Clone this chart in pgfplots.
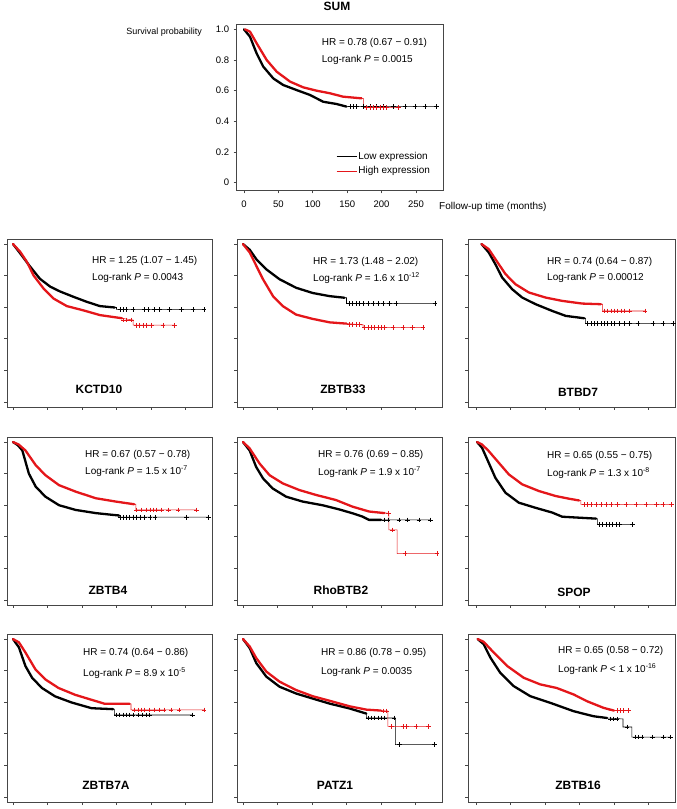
\documentclass[border=0pt]{standalone}
\usepackage{fontspec}
\setmainfont{Liberation Sans}
\usepackage{pgfplots}
\pgfplotsset{compat=1.18}
\definecolor{kmred}{RGB}{228,22,26}
\definecolor{frame}{RGB}{70,70,70}

\newcommand\hrfont{\fontsize{10}{12}\selectfont}
\newcommand\genefont{\fontsize{12}{14}\selectfont\bfseries}

\pgfplotsset{
  kmbase/.style={
    scale only axis, anchor=south west,
    ymin=-0.032, ymax=1.032,
    xtick={0,50,100,150,200,250}, ytick={0,0.2,0.4,0.6,0.8,1},
    xticklabels={}, yticklabels={},
    tick align=outside, xtick pos=bottom, ytick pos=left,
    major tick length=3pt,
    axis line style={frame, line width=0.6pt},
    tick style={frame, line width=0.6pt},
  },
  kmpanel/.style={kmbase, width=205pt, height=168pt, xmin=-8.7, xmax=288.4},
  kmpanelr/.style={kmbase, width=207pt, height=168pt, xmin=-11.6, xmax=288.4},
  lowline/.style={black, line width=0.55pt, mark=none},
  highline/.style={kmred, line width=0.55pt, mark=none},
  lowband/.style={black, line width=2.3pt, line join=round, line cap=round, mark=none, forget plot},
  highband/.style={kmred, line width=2.3pt, line join=round, line cap=round, mark=none, forget plot},
  lowcens/.style={black, only marks, mark=+, mark size=2.3pt, mark options={line width=0.5pt}, forget plot},
  highcens/.style={kmred, only marks, mark=+, mark size=2.3pt, mark options={line width=0.5pt}, forget plot},
}

\begin{document}
\begin{tikzpicture}
\path[use as bounding box] (0,0) rectangle (677pt,809pt);

% ---------------- SUM ----------------
\begin{axis}[kmbase, at={(236.7pt,618.5pt)}, width=206.6pt, height=166.5pt,
  xmin=-10.6, xmax=289.7, ymin=-0.051, ymax=1.035,
  xticklabels={0,50,100,150,200,250}, yticklabels={0,0.2,0.4,0.6,0.8,1.0},
  tick label style={font=\fontsize{9.5}{11}\selectfont},
  xticklabel style={yshift=-4pt}, yticklabel style={xshift=-1pt},
  legend image code/.code={\draw[#1] (0pt,0pt) -- (20pt,0pt);},
  legend style={draw=none, fill=none, inner sep=0pt, at={(0.481,0.161)}, anchor=west,
    font=\hrfont, row sep=3pt, nodes={inner sep=1.5pt}},
  legend cell align=left]
\addplot[lowline] coordinates {(0,1) (8.7,0.952) (18.4,0.843) (28,0.757) (42.6,0.68) (57,0.637) (76.5,0.604) (96,0.572) (115,0.528) (134.7,0.513) (149,0.496) (280,0.496)};
\addlegendentry{Low expression}
\addplot[lowband] coordinates {(0,1) (8.7,0.952) (18.4,0.843) (28,0.757) (42.6,0.68) (57,0.637) (76.5,0.604) (96,0.572) (115,0.528) (134.7,0.513) (149,0.496)};
\addplot[lowcens] coordinates {(154,0.496) (158.9,0.496) (163.8,0.496) (173.4,0.496) (183,0.496) (192.8,0.496) (202.5,0.496) (217,0.496) (234,0.496) (248.5,0.496) (263,0.496) (280,0.496)};
\addplot[highline] coordinates {(1.5,1) (8.7,0.985) (18.4,0.909) (33,0.80) (47.5,0.724) (67,0.659) (86,0.622) (105.6,0.60) (125,0.583) (144,0.561) (171,0.55) (173.4,0.55) (173.4,0.491) (224,0.491)};
\addlegendentry{High expression}
\addplot[highband] coordinates {(1.5,1) (8.7,0.985) (18.4,0.909) (33,0.80) (47.5,0.724) (67,0.659) (86,0.622) (105.6,0.60) (125,0.583) (144,0.561) (171,0.55)};
\addplot[highcens] coordinates {(178.3,0.491) (183,0.491) (188,0.491) (192.8,0.491) (197.7,0.491) (202.5,0.491) (207.4,0.491) (224.3,0.491)};
\end{axis}
\node[font=\genefont] at (337pt,802.7pt) {SUM};
\node[anchor=east, inner sep=0pt, font=\fontsize{9}{11}\selectfont] at (202pt,777pt) {Survival probability};
\node[anchor=west, inner sep=0pt, font=\hrfont] at (439pt,602.3pt) {Follow-up time (months)};
\node[anchor=west, inner sep=0pt, font=\hrfont] at (321.7pt,766.3pt) {HR = 0.78 (0.67 − 0.91)};
\node[anchor=west, inner sep=0pt, font=\hrfont] at (321.7pt,749pt) {Log-rank \textit{P} = 0.0015};

% ---------------- KCTD10 ----------------
\begin{axis}[kmpanel, at={(7pt,402pt)}]
\addplot[lowline] coordinates {(0,1) (10.6,0.94) (25,0.856) (39,0.78) (54,0.73) (68,0.70) (87.5,0.666) (107,0.634) (126,0.607) (147.6,0.598) (150,0.598) (150,0.586) (277,0.586)};
\addplot[lowband] coordinates {(0,1) (10.6,0.94) (25,0.856) (39,0.78) (54,0.73) (68,0.70) (87.5,0.666) (107,0.634) (126,0.607) (147.6,0.598)};
\addplot[lowcens] coordinates {(155,0.586) (159.6,0.586) (164,0.586) (174,0.586) (190.9,0.586) (195.7,0.586) (205.3,0.586) (212.5,0.586) (227,0.586) (243.8,0.586) (260.6,0.586) (277,0.586)};
\addplot[highline] coordinates {(0,1) (10.6,0.95) (20,0.888) (30,0.80) (44,0.72) (58.7,0.655) (78,0.607) (102,0.58) (126,0.55) (150,0.535) (171.6,0.52) (174,0.52) (174,0.486) (234,0.486)};
\addplot[highband] coordinates {(0,1) (10.6,0.95) (20,0.888) (30,0.80) (44,0.72) (58.7,0.655) (78,0.607) (102,0.58) (126,0.55) (150,0.535) (158,0.53)};
\addplot[highcens] coordinates {(159.6,0.52) (164.4,0.52) (171.6,0.52) (178.8,0.486) (183.6,0.486) (188.5,0.486) (193.3,0.486) (200.5,0.486) (217.3,0.486) (234,0.486)};
\end{axis}
\node[anchor=west, inner sep=0pt, font=\hrfont] at (92pt,548pt) {HR = 1.25 (1.07 − 1.45)};
\node[anchor=west, inner sep=0pt, font=\hrfont] at (92pt,531pt) {Log-rank \textit{P} = 0.0043};
\node[font=\genefont] at (99pt,420pt) {KCTD10};

% ---------------- ZBTB33 ----------------
\begin{axis}[kmpanel, at={(237pt,402pt)}]
\addplot[lowline] coordinates {(0,1) (9.7,0.964) (19.3,0.904) (33.8,0.84) (53,0.777) (77,0.723) (101,0.69) (125.6,0.67) (147,0.66) (150,0.66) (150,0.623) (278,0.623)};
\addplot[lowband] coordinates {(0,1) (9.7,0.964) (19.3,0.904) (33.8,0.84) (53,0.777) (77,0.723) (101,0.69) (125.6,0.67) (147,0.66)};
\addplot[lowcens] coordinates {(154.6,0.623) (159,0.623) (164,0.623) (169,0.623) (174,0.623) (181,0.623) (188.4,0.623) (195.7,0.623) (203,0.623) (212.6,0.623) (222,0.623) (278,0.623)};
\addplot[highline] coordinates {(0,1) (9.7,0.947) (19.3,0.862) (29,0.777) (43.5,0.67) (58,0.606) (77,0.553) (101,0.526) (125.6,0.504) (150,0.496) (171.5,0.489) (174,0.489) (174,0.472) (261,0.472)};
\addplot[highband] coordinates {(0,1) (9.7,0.947) (19.3,0.862) (29,0.777) (43.5,0.67) (58,0.606) (77,0.553) (101,0.526) (125.6,0.504) (150,0.496)};
\addplot[highcens] coordinates {(154.6,0.489) (159,0.489) (164,0.489) (169,0.489) (176,0.472) (181,0.472) (186,0.472) (190.8,0.472) (195.7,0.472) (200.5,0.472) (205.3,0.472) (217.4,0.472) (232,0.472) (246,0.472) (261,0.472)};
\end{axis}
\node[anchor=west, inner sep=0pt, font=\hrfont] at (313pt,547pt) {HR = 1.73 (1.48 − 2.02)};
\node[anchor=west, inner sep=0pt, font=\hrfont] at (313pt,531pt) {Log-rank \textit{P} = 1.6 x 10\textsuperscript{-12}};
\node[font=\genefont] at (343pt,420pt) {ZBTB33};

% ---------------- BTBD7 ----------------
\begin{axis}[kmpanelr, at={(468pt,402pt)}]
\addplot[lowline] coordinates {(8,1) (18.4,0.947) (28,0.873) (37.9,0.788) (52.4,0.714) (67,0.661) (86.4,0.619) (110.7,0.576) (130,0.545) (156.8,0.53) (159,0.53) (159,0.496) (288.4,0.496)};
\addplot[lowband] coordinates {(8,1) (18.4,0.947) (28,0.873) (37.9,0.788) (52.4,0.714) (67,0.661) (86.4,0.619) (110.7,0.576) (130,0.545) (156.8,0.53)};
\addplot[lowcens] coordinates {(161.7,0.496) (166.5,0.496) (171,0.496) (176,0.496) (181,0.496) (186,0.496) (190.8,0.496) (195.6,0.496) (200.5,0.496) (207.8,0.496) (215,0.496) (222.3,0.496) (234.5,0.496) (256.3,0.496) (271,0.496) (286,0.496)};
\addplot[highline] coordinates {(8,1) (18.4,0.968) (28,0.905) (42.7,0.81) (57,0.746) (76.7,0.693) (101,0.661) (125,0.64) (154,0.623) (181,0.619) (183.5,0.619) (183.5,0.576) (245,0.576)};
\addplot[highband] coordinates {(8,1) (18.4,0.968) (28,0.905) (42.7,0.81) (57,0.746) (76.7,0.693) (101,0.661) (125,0.64) (154,0.623) (181,0.619)};
\addplot[highcens] coordinates {(186,0.576) (190.8,0.576) (195.6,0.576) (200.5,0.576) (205.3,0.576) (210,0.576) (215,0.576) (222.3,0.576) (245,0.576)};
\end{axis}
\node[anchor=west, inner sep=0pt, font=\hrfont] at (547pt,547pt) {HR = 0.74 (0.64 − 0.87)};
\node[anchor=west, inner sep=0pt, font=\hrfont] at (547pt,531pt) {Log-rank \textit{P} = 0.00012};
\node[font=\genefont] at (578pt,417pt) {BTBD7};

% ---------------- ZBTB4 ----------------
\begin{axis}[kmpanel, at={(7pt,204pt)}]
\addplot[lowline] coordinates {(0,1) (7,0.98) (13.5,0.947) (23,0.80) (33,0.717) (47,0.654) (66.7,0.60) (90.8,0.57) (120,0.55) (144,0.539) (153.6,0.539) (153.6,0.524) (284,0.524)};
\addplot[lowband] coordinates {(0,1) (7,0.98) (13.5,0.947) (23,0.80) (33,0.717) (47,0.654) (66.7,0.60) (90.8,0.57) (120,0.55) (144,0.539) (153.6,0.535)};
\addplot[lowcens] coordinates {(155,0.524) (160,0.524) (164.4,0.524) (169,0.524) (174,0.524) (178.8,0.524) (184,0.524) (190.4,0.524) (198.6,0.524) (205.8,0.524) (251.4,0.524) (283,0.524)};
\addplot[highline] coordinates {(0,1) (8,0.985) (18,0.947) (33,0.853) (47,0.79) (66.7,0.727) (90.8,0.686) (120,0.644) (149,0.623) (175.6,0.606) (178,0.606) (178,0.57) (266,0.57)};
\addplot[highband] coordinates {(0,1) (8,0.985) (18,0.947) (33,0.853) (47,0.79) (66.7,0.727) (90.8,0.686) (120,0.644) (149,0.623) (175.6,0.606)};
\addplot[highcens] coordinates {(179,0.57) (186.5,0.57) (193.8,0.57) (198.6,0.57) (203.4,0.57) (208,0.57) (215.4,0.57) (225,0.57) (239.4,0.57) (266,0.57)};
\end{axis}
\node[anchor=west, inner sep=0pt, font=\hrfont] at (85pt,354pt) {HR = 0.67 (0.57 − 0.78)};
\node[anchor=west, inner sep=0pt, font=\hrfont] at (85pt,338pt) {Log-rank \textit{P} = 1.5 x 10\textsuperscript{-7}};
\node[font=\genefont] at (108pt,219pt) {ZBTB4};

% ---------------- RhoBTB2 ----------------
\begin{axis}[kmpanel, at={(237pt,204pt)}]
\addplot[lowline] coordinates {(0,1) (9.6,0.947) (19,0.843) (29,0.77) (43,0.706) (62.5,0.654) (86.5,0.623) (115,0.60) (139,0.574) (158.6,0.549) (173,0.528) (182.7,0.507) (271.6,0.507)};
\addplot[lowband] coordinates {(0,1) (9.6,0.947) (19,0.843) (29,0.77) (43,0.706) (62.5,0.654) (86.5,0.623) (115,0.60) (139,0.574) (158.6,0.549) (173,0.528) (182.7,0.507) (200,0.507)};
\addplot[lowcens] coordinates {(205,0.507) (210,0.507) (226,0.507) (238,0.507) (254.8,0.507) (271.6,0.507)};
\addplot[highline] coordinates {(0,1) (9.6,0.96) (24,0.864) (38.5,0.79) (57.7,0.738) (81.7,0.696) (105.8,0.665) (134.6,0.633) (158.6,0.591) (182.7,0.56) (211.5,0.549) (211.5,0.444) (223.5,0.444) (223.5,0.293) (281,0.293)};
\addplot[highband] coordinates {(0,1) (9.6,0.96) (24,0.864) (38.5,0.79) (57.7,0.738) (81.7,0.696) (105.8,0.665) (134.6,0.633) (158.6,0.591) (182.7,0.56) (205,0.55)};
\addplot[highcens] coordinates {(211,0.549) (216.3,0.444) (234.6,0.293) (281,0.293)};
\end{axis}
\node[anchor=west, inner sep=0pt, font=\hrfont] at (318pt,354pt) {HR = 0.76 (0.69 − 0.85)};
\node[anchor=west, inner sep=0pt, font=\hrfont] at (318pt,337pt) {Log-rank \textit{P} = 1.9 x 10\textsuperscript{-7}};
\node[font=\genefont] at (341pt,219pt) {RhoBTB2};

% ---------------- SPOP ----------------
\begin{axis}[kmpanelr, at={(468pt,204pt)}]
\addplot[lowline] coordinates {(1.5,1) (8.7,0.964) (18.4,0.869) (28,0.774) (42.7,0.679) (62,0.616) (86,0.584) (110.7,0.553) (125,0.527) (149.5,0.521) (174,0.515) (176,0.515) (176,0.479) (227,0.479)};
\addplot[lowband] coordinates {(1.5,1) (8.7,0.964) (18.4,0.869) (28,0.774) (42.7,0.679) (62,0.616) (86,0.584) (110.7,0.553) (125,0.527) (149.5,0.521) (174,0.515)};
\addplot[lowcens] coordinates {(178.6,0.479) (183.5,0.479) (188.3,0.479) (193.2,0.479) (198,0.479) (203,0.479) (207.8,0.479) (227,0.479)};
\addplot[highline] coordinates {(1.5,1) (8.7,0.985) (18.4,0.943) (33,0.869) (47.6,0.795) (67,0.732) (91,0.69) (115.5,0.658) (135,0.641) (149.5,0.63) (152,0.63) (152,0.605) (283,0.605)};
\addplot[highband] coordinates {(1.5,1) (8.7,0.985) (18.4,0.943) (33,0.869) (47.6,0.795) (67,0.732) (91,0.69) (115.5,0.658) (135,0.641) (149.5,0.63)};
\addplot[highcens] coordinates {(156.8,0.605) (161.7,0.605) (166.5,0.605) (173.8,0.605) (181,0.605) (188.3,0.605) (195.6,0.605) (205.3,0.605) (217.5,0.605) (232,0.605) (246.6,0.605) (261.2,0.605) (270.9,0.605) (283,0.605)};
\end{axis}
\node[anchor=west, inner sep=0pt, font=\hrfont] at (547pt,353pt) {HR = 0.65 (0.55 − 0.75)};
\node[anchor=west, inner sep=0pt, font=\hrfont] at (547pt,336pt) {Log-rank \textit{P} = 1.3 x 10\textsuperscript{-8}};
\node[font=\genefont] at (574pt,217pt) {SPOP};

% ---------------- ZBTB7A ----------------
\begin{axis}[kmpanel, at={(7pt,7pt)}]
\addplot[lowline] coordinates {(0,1) (8.6,0.947) (18,0.829) (27.8,0.754) (42,0.69) (61,0.637) (85,0.598) (114,0.562) (145,0.556) (147,0.556) (147,0.519) (260,0.519)};
\addplot[lowband] coordinates {(0,1) (8.6,0.947) (18,0.829) (27.8,0.754) (42,0.69) (61,0.637) (85,0.598) (114,0.562) (145,0.556)};
\addplot[lowcens] coordinates {(149.8,0.519) (154.5,0.519) (159.3,0.519) (164,0.519) (168.9,0.519) (173.7,0.519) (180.9,0.519) (188,0.519) (192.8,0.519) (197.6,0.519) (259.8,0.519)};
\addplot[highline] coordinates {(0,1) (8.6,0.979) (18,0.915) (32.5,0.808) (47,0.744) (66,0.69) (90,0.647) (114,0.615) (133,0.59) (171,0.59) (171,0.551) (276.5,0.551)};
\addplot[highband] coordinates {(0,1) (8.6,0.979) (18,0.915) (32.5,0.808) (47,0.744) (66,0.69) (90,0.647) (114,0.615) (133,0.59) (169,0.59)};
\addplot[highcens] coordinates {(176,0.551) (180.9,0.551) (185.6,0.551) (190.4,0.551) (197.6,0.551) (204.8,0.551) (212,0.551) (219,0.551) (228.7,0.551) (240.7,0.551) (276.6,0.551)};
\end{axis}
\node[anchor=west, inner sep=0pt, font=\hrfont] at (83pt,156pt) {HR = 0.74 (0.64 − 0.86)};
\node[anchor=west, inner sep=0pt, font=\hrfont] at (83pt,136pt) {Log-rank \textit{P} = 8.9 x 10\textsuperscript{-5}};
\node[font=\genefont] at (106pt,24pt) {ZBTB7A};

% ---------------- PATZ1 ----------------
\begin{axis}[kmpanel, at={(237pt,7pt)}]
\addplot[lowline] coordinates {(0,1) (9.7,0.943) (19.3,0.847) (33.8,0.762) (53,0.698) (77,0.655) (101,0.623) (125.6,0.591) (154.6,0.56) (178.7,0.528) (178.7,0.50) (220.8,0.50) (220.8,0.332) (277.8,0.332)};
\addplot[lowband] coordinates {(0,1) (9.7,0.943) (19.3,0.847) (33.8,0.762) (53,0.698) (77,0.655) (101,0.623) (125.6,0.591) (154.6,0.56) (178.7,0.528)};
\addplot[lowcens] coordinates {(181,0.5) (186,0.5) (190.8,0.5) (195.7,0.5) (200.5,0.5) (205.3,0.5) (219,0.5) (227,0.332) (277.8,0.332)};
\addplot[highline] coordinates {(0,1) (9.7,0.953) (19.3,0.879) (33.8,0.794) (53,0.73) (77,0.677) (101,0.638) (125.6,0.609) (154.6,0.574) (178.7,0.553) (207.7,0.545) (210,0.545) (210,0.447) (269,0.447)};
\addplot[highband] coordinates {(0,1) (9.7,0.953) (19.3,0.879) (33.8,0.794) (53,0.73) (77,0.677) (101,0.638) (125.6,0.609) (154.6,0.574) (178.7,0.553) (200,0.547)};
\addplot[highcens] coordinates {(203,0.545) (207.7,0.545) (215,0.447) (232,0.447) (236.7,0.447) (251,0.447) (269,0.447)};
\end{axis}
\node[anchor=west, inner sep=0pt, font=\hrfont] at (321pt,156pt) {HR = 0.86 (0.78 − 0.95)};
\node[anchor=west, inner sep=0pt, font=\hrfont] at (321pt,137pt) {Log-rank \textit{P} = 0.0035};
\node[font=\genefont] at (335pt,24pt) {PATZ1};

% ---------------- ZBTB16 ----------------
\begin{axis}[kmpanelr, at={(468pt,7pt)}]
\addplot[lowline] coordinates {(2.4,1) (11,0.968) (20.8,0.883) (35,0.787) (54.6,0.702) (78.7,0.638) (107.7,0.596) (141.5,0.543) (170.5,0.511) (190,0.50) (213,0.494) (213,0.443) (226,0.443) (226,0.379) (281.6,0.379)};
\addplot[lowband] coordinates {(2.4,1) (11,0.968) (20.8,0.883) (35,0.787) (54.6,0.702) (78.7,0.638) (107.7,0.596) (141.5,0.543) (170.5,0.511) (190,0.50)};
\addplot[lowcens] coordinates {(194.7,0.494) (199.5,0.494) (204.3,0.494) (218.8,0.443) (231,0.379) (235.7,0.379) (240.6,0.379) (256,0.379) (272,0.379) (281.6,0.379)};
\addplot[highline] coordinates {(2.4,1) (11,0.983) (25.6,0.915) (45,0.83) (69,0.755) (93,0.713) (117,0.69) (141.5,0.649) (161,0.606) (185,0.564) (194.7,0.547) (221,0.547)};
\addplot[highband] coordinates {(2.4,1) (11,0.983) (25.6,0.915) (45,0.83) (69,0.755) (93,0.713) (117,0.69) (141.5,0.649) (161,0.606) (185,0.564) (200,0.547)};
\addplot[highcens] coordinates {(204.3,0.547) (209,0.547) (214,0.547) (221,0.547)};
\end{axis}
\node[anchor=west, inner sep=0pt, font=\hrfont] at (558pt,158pt) {HR = 0.65 (0.58 − 0.72)};
\node[anchor=west, inner sep=0pt, font=\hrfont] at (558pt,140pt) {Log-rank \textit{P} < 1 x 10\textsuperscript{-16}};
\node[font=\genefont] at (578pt,24pt) {ZBTB16};
\end{tikzpicture}
\end{document}
